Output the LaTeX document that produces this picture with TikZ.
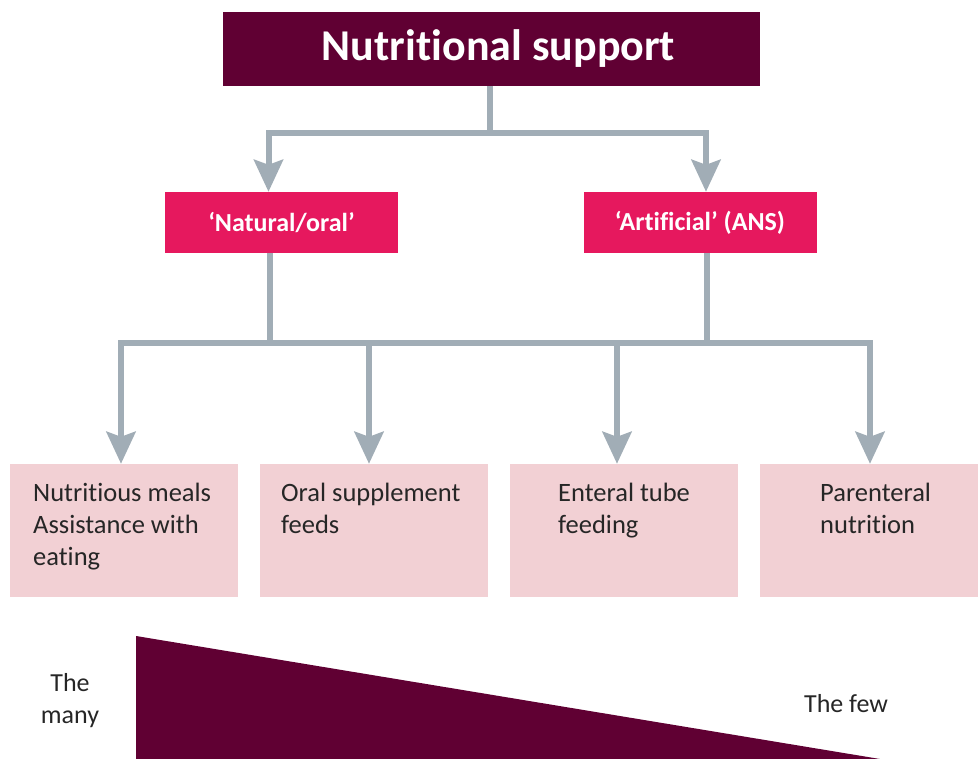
\documentclass[tikz,border=0pt]{standalone}
\usepackage{fontspec}
\setmainfont{Carlito}[Ligatures=NoCommon]
\usetikzlibrary{arrows.meta}
\definecolor{plum}{HTML}{600033}
\definecolor{rosered}{HTML}{E6185E}
\definecolor{blush}{HTML}{F2D0D4}
\definecolor{slate}{HTML}{A1ADB6}
\definecolor{ink}{HTML}{262626}
\tikzset{
  titlebox/.style={fill=plum, text=white, font=\fontsize{44}{50}\selectfont\bfseries, minimum width=537pt, minimum height=74pt, inner sep=0pt},
  catbox/.style={fill=rosered, text=white, font=\fontsize{26}{30}\selectfont\bfseries, minimum width=233pt, minimum height=61pt, inner sep=0pt},
  leafbox/.style={fill=blush, minimum width=228pt, minimum height=133pt, inner sep=0pt},
  leaftext/.style={text=ink, font=\fontsize{26.5}{32}\selectfont, align=left, anchor=north west, inner sep=0pt},
  sidetext/.style={text=ink, font=\fontsize{26}{32}\selectfont, align=center, inner sep=0pt},
  conn/.style={draw=slate, line width=6pt, -{Stealth[length=32pt, width=29pt, inset=5pt]}},
  busline/.style={draw=slate, line width=6pt},
}
\begin{document}
\begin{tikzpicture}[x=1pt, y=-1pt]
\useasboundingbox (0,0) rectangle (978,759);
\node[titlebox] (title) at (491.5,49) {\hspace*{14pt}Nutritional support};
\node[catbox] (nat) at (281.5,222.5) {‘Natural/oral’};
\node[catbox] (art) at (700,222.5) {‘Artificial’ (ANS)};
\node[leafbox] (b1) at (124,530.5) {};
\node[leafbox] (b2) at (374,530.5) {};
\node[leafbox] (b3) at (624,530.5) {};
\node[leafbox, minimum width=220pt] (b4) at (870,530.5) {};
\node[leaftext] (t1) at (33,483) {Nutritious meals\\Assistance with\\eating};
\node[leaftext] (t2) at (281,483) {Oral supplement\\feeds};
\node[leaftext] (t3) at (558,483) {Enteral tube\\feeding};
\node[leaftext] (t4) at (820,483) {Parenteral\\nutrition};
\coordinate (j1) at (490,133);
\coordinate (natdown) at (270,343);
\coordinate (artdown) at (707,343);
\draw[conn] (title.south -| j1) -- (j1) -| ([xshift=-13pt]nat.north);
\draw[conn] (j1) -| ([xshift=6pt]art.north);
\draw[busline] (natdown) -- (artdown);
\draw[conn] (nat.south -| natdown) -- (natdown) -| ([xshift=-3pt]b1.north);
\draw[conn] (natdown) -| ([xshift=-5pt]b2.north);
\draw[conn] (artdown) -| ([xshift=-7pt]b3.north);
\draw[conn] (art.south -| artdown) -- (artdown) -| ([xshift=0pt]b4.north);
\fill[plum] (136,636) coordinate (ta) -- (136,759) coordinate (tb) -- (880,759) coordinate (tc) -- cycle;
\node[sidetext] (many) at (70,701) {The\\many};
\node[sidetext] (few) at (846,704) {The few};
\end{tikzpicture}
\end{document}
